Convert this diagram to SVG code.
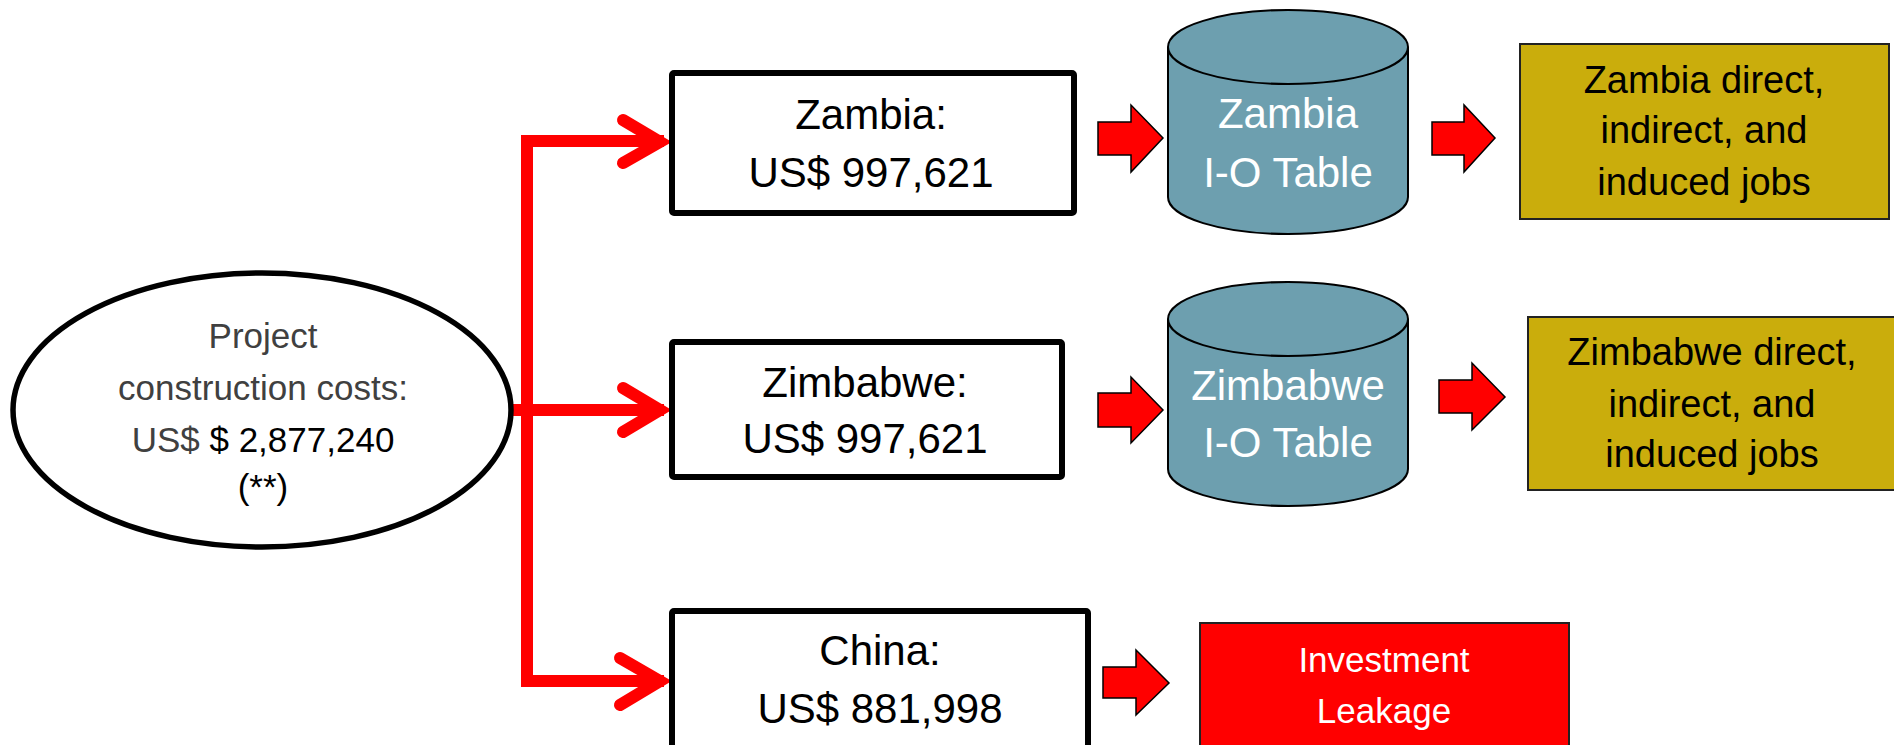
<svg xmlns="http://www.w3.org/2000/svg" width="1894" height="745" viewBox="0 0 1894 745">
<style>
text{font-family:"Liberation Sans",Arial,sans-serif;text-anchor:middle}
.box{fill:#fff;stroke:#000;stroke-width:6}
.cyl{fill:#6D9FAF;stroke:#000;stroke-width:2}
.res{fill:#CAAD0C;stroke:#222;stroke-width:2}
.blk{fill:#FF0000;stroke:#000;stroke-width:1.5;stroke-linejoin:miter}
.con{fill:none;stroke:#FF0000;stroke-width:12;stroke-linejoin:miter}
.chev{fill:none;stroke:#FF0000;stroke-width:12;stroke-linecap:round;stroke-linejoin:miter;stroke-miterlimit:10}
.t42{font-size:42px;fill:#000}
.tw{font-size:42px;fill:#fff}
.t38{font-size:38px;fill:#000}
.t35{font-size:35px}
</style>
<rect width="1894" height="745" fill="#fff"/>

<g id="connectors">
  <path class="con" d="M664,141 H527 V681 H664"/>
  <path class="con" d="M508,410 H664"/>
  <path class="chev" d="M623,120 L660,142 L623,163"/>
  <path class="chev" d="M623,388 L660,410 L623,432"/>
  <path class="chev" d="M620,658 L660,681 L620,705"/>
  <path class="blk" d="M1098,122 H1131 V105 L1163,138 L1131,172 V155 H1098 Z"/>
  <path class="blk" d="M1432,122 H1464 V105 L1495,138 L1464,172 V155 H1432 Z"/>
  <path class="blk" d="M1098,393 H1131 V377 L1163,410 L1131,443 V427 H1098 Z"/>
  <path class="blk" d="M1439,380 H1472 V363 L1505,397 L1472,430 V413 H1439 Z"/>
  <path class="blk" d="M1103,667 H1136 V650 L1169,683 L1136,715 V698 H1103 Z"/>
</g>

<g id="project">
  <ellipse cx="262" cy="410" rx="249" ry="137" fill="#fff" stroke="#000" stroke-width="5.5"/>
  <text class="t35" x="263" y="348" fill="#404040">Project</text>
  <text class="t35" x="263" y="400" fill="#404040">construction costs:</text>
  <text class="t35" x="263" y="452"><tspan fill="#404040">US$</tspan><tspan fill="#000"> $ 2,877,240</tspan></text>
  <text class="t35" x="263" y="499" fill="#000">(**)</text>
</g>

<g id="zambia">
  <rect class="box" x="672" y="73" width="402" height="140" rx="2"/>
  <text class="t42" x="871" y="129">Zambia:</text>
  <text class="t42" x="871" y="187">US$ 997,621</text>
</g>

<g id="zimbabwe">
  <rect class="box" x="672" y="342" width="390" height="135" rx="2"/>
  <text class="t42" x="865" y="397">Zimbabwe:</text>
  <text class="t42" x="865" y="453">US$ 997,621</text>
</g>

<g id="china">
  <rect class="box" x="672" y="611" width="416" height="150" rx="2"/>
  <text class="t42" x="880" y="665">China:</text>
  <text class="t42" x="880" y="723">US$ 881,998</text>
</g>

<g id="zambia-io">
  <path class="cyl" d="M1168,47 V197 A120,37 0 0 0 1408,197 V47"/>
  <ellipse class="cyl" cx="1288" cy="47" rx="120" ry="37"/>
  <text class="tw" x="1288" y="128">Zambia</text>
  <text class="tw" x="1288" y="187">I-O Table</text>
</g>

<g id="zimbabwe-io">
  <path class="cyl" d="M1168,319 V469 A120,37 0 0 0 1408,469 V319"/>
  <ellipse class="cyl" cx="1288" cy="319" rx="120" ry="37"/>
  <text class="tw" x="1288" y="400">Zimbabwe</text>
  <text class="tw" x="1288" y="457">I-O Table</text>
</g>

<g id="zambia-jobs">
  <rect class="res" x="1520" y="44" width="369" height="175"/>
  <text class="t38" x="1704" y="93">Zambia direct,</text>
  <text class="t38" x="1704" y="143">indirect, and</text>
  <text class="t38" x="1704" y="195">induced jobs</text>
</g>

<g id="zimbabwe-jobs">
  <rect class="res" x="1528" y="317" width="372" height="173"/>
  <text class="t38" x="1712" y="365">Zimbabwe direct,</text>
  <text class="t38" x="1712" y="417">indirect, and</text>
  <text class="t38" x="1712" y="467">induced jobs</text>
</g>

<g id="leakage">
  <rect x="1200" y="623" width="369" height="140" fill="#FF0000" stroke="#222" stroke-width="2"/>
  <text class="t35" x="1384" y="672" fill="#fff">Investment</text>
  <text class="t35" x="1384" y="723" fill="#fff">Leakage</text>
</g>
</svg>
